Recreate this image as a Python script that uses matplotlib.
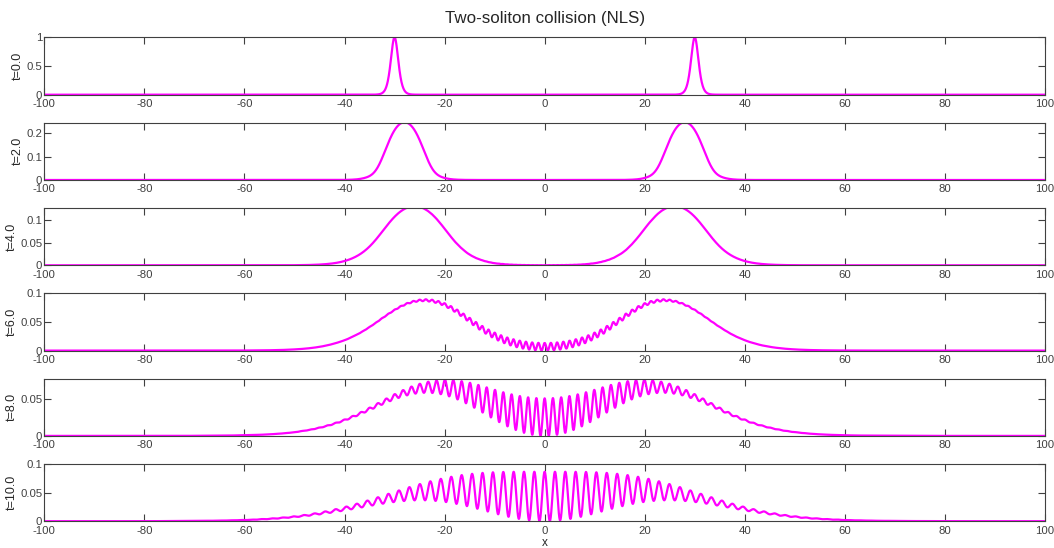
import numpy as np
import matplotlib
matplotlib.use("Agg")
import matplotlib.pyplot as plt

# ---- data ----
times = [0.0, 2.0, 4.0, 6.0, 8.0, 10.0]
centers = [-30.0, 30.0]          # initial soliton positions
velocities = [1.0, -1.0]         # drift speeds (group velocity = 2k)
amplitudes = [1.0, 1.0]
nonlinear_coef = 1.0             # i u_t + u_xx - g |u|^2 u = 0
ytops = [1.0, 0.2446, 0.127, 0.1, 0.0773, 0.1]
yticks_list = [[0, 0.5, 1], [0, 0.1, 0.2], [0, 0.05, 0.1],
               [0, 0.05, 0.1], [0, 0.05], [0, 0.05, 0.1]]
ytick_labels = [["0", "0.5", "1"], ["0", "0.1", "0.2"], ["0", "0.05", "0.1"],
                ["0", "0.05", "0.1"], ["0", "0.05"], ["0", "0.05", "0.1"]]
xticks = [-100, -80, -60, -40, -20, 0, 20, 40, 60, 80, 100]
L = 200.0
N = 4096

# ---- split-step Fourier evolution ----
x = np.linspace(-L / 2, L / 2, N, endpoint=False)
k = 2 * np.pi * np.fft.fftfreq(N, d=L / N)
u = np.zeros(N, dtype=complex)
for c, v, a in zip(centers, velocities, amplitudes):
    u += a / np.cosh(a * (x - c)) * np.exp(1j * (v / 2) * x)
dt = 0.002
lin = np.exp(-1j * k ** 2 * dt / 2)
profiles = []
tcur = 0.0
for T in times:
    while tcur < T - 1e-9:
        u = np.fft.ifft(lin * np.fft.fft(u))
        u = u * np.exp(-1j * nonlinear_coef * np.abs(u) ** 2 * dt)
        u = np.fft.ifft(lin * np.fft.fft(u))
        tcur += dt
    profiles.append(np.abs(u) ** 2)
xp = np.append(x, L / 2)
profiles = [np.append(p, p[0]) for p in profiles]

plt.rcParams['font.family'] = ['Liberation Sans', 'DejaVu Sans']
W, H = 1054, 548
fig = plt.figure(figsize=(W / 100, H / 100), dpi=100)
axc = '#404040'
left = 44.3 / W
width = (1045 - 44.3) / W
ph = 57.4 / H
for i, t in enumerate(times):
    bottom_px = 94.7 + 85.3 * i
    ax = fig.add_axes([left, 1 - bottom_px / H, width, ph])
    ax.plot(xp, profiles[i], color=(1, 0, 1), lw=1.6, clip_on=True)
    ax.set_xlim(-100, 100)
    ax.set_ylim(0, ytops[i])
    ax.set_xticks(xticks)
    ax.set_xticklabels([str(v) for v in xticks])
    ax.set_yticks(yticks_list[i])
    ax.set_yticklabels(ytick_labels[i])
    ax.tick_params(direction='in', length=5, width=0.8, top=True, right=True,
                   colors=axc, labelsize=8.2)
    ax.tick_params(axis='x', pad=3.2)
    ax.tick_params(axis='y', pad=1.5)
    for s in ax.spines.values():
        s.set_color(axc)
        s.set_linewidth(0.8)
    ax.set_ylabel(f"t={t:.1f}", fontsize=9, color='#262626', labelpad=2)
    if i == 0:
        ax.set_title("Two-soliton collision (NLS)", fontsize=12.2, color='#262626', pad=10)
    if i == len(times) - 1:
        ax.set_xlabel("x", fontsize=8.5, color='#262626', labelpad=1)

fig.savefig("out.png", dpi=100)
